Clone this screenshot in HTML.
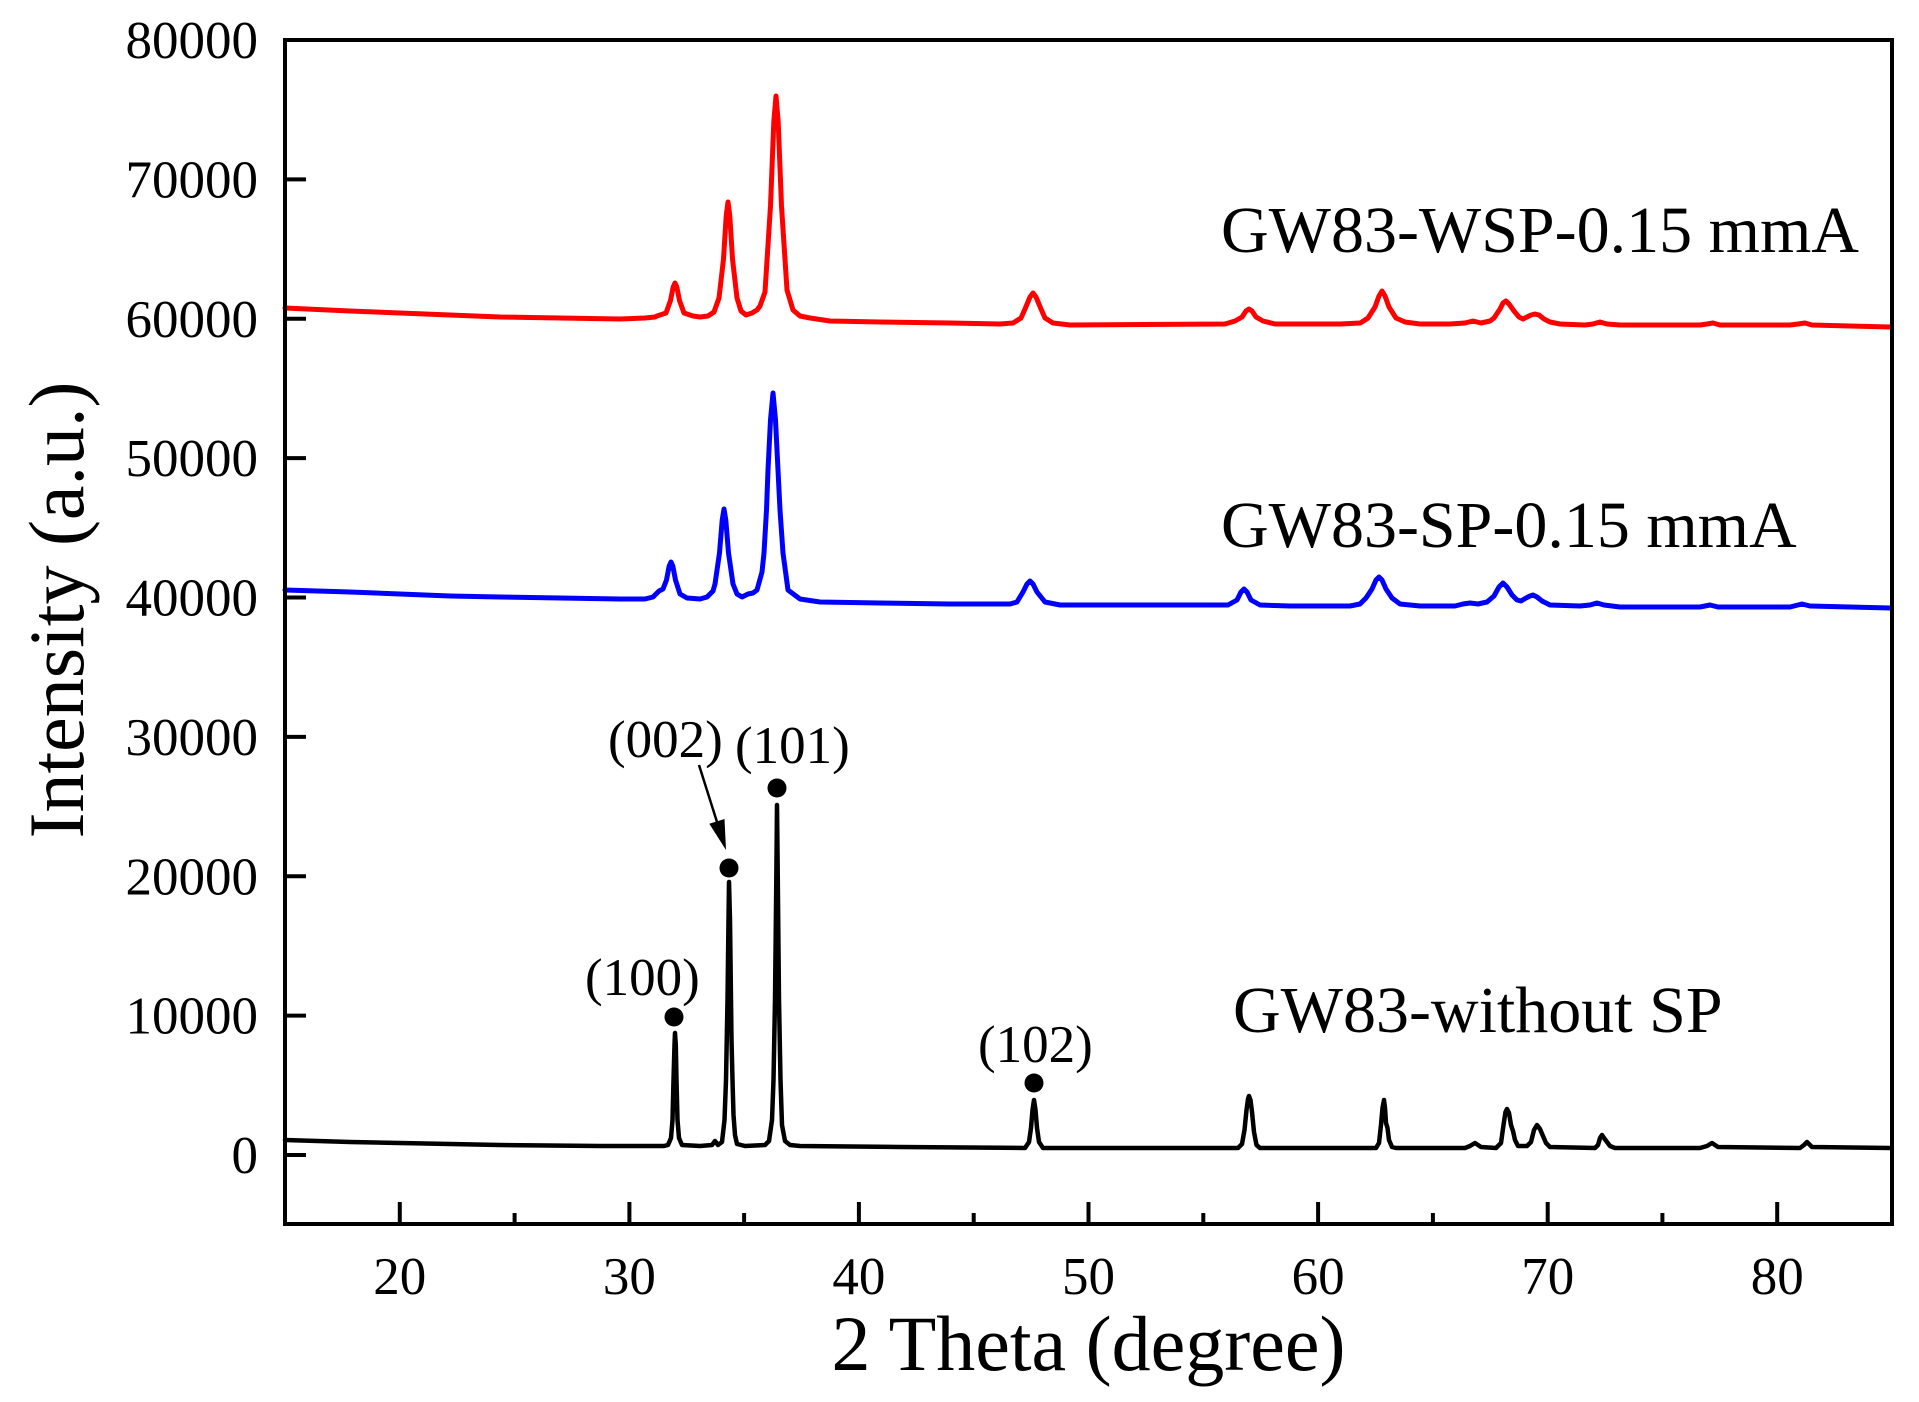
<!DOCTYPE html>
<html>
<head>
<meta charset="utf-8">
<style>
html,body{margin:0;padding:0;background:#fff;}
svg{display:block;}
text{font-family:"Liberation Serif","Times New Roman",serif;fill:#000;}
</style>
</head>
<body>
<svg width="1919" height="1402" viewBox="0 0 1919 1402" xmlns="http://www.w3.org/2000/svg">
<rect x="0" y="0" width="1919" height="1402" fill="#fff"/>

<!-- curves -->
<g fill="none" stroke-linejoin="round" stroke-linecap="round">
<!-- red -->
<polyline stroke="#ff0000" stroke-width="5" points="285,308 350,311 400,313 450,315 500,317 560,318 620,319 645,318 655,317 657,316 666,313 670.5,300.5 673.2,287 675,283 676.8,287 679.5,300.5 684,313 693,316 700,317 708,316 714,312 719,298 723.5,259 726.2,216 728,202 729.8,216 732.5,259 737,298 741,311 746,315 752,313 757,310 760,306 765,292 770.5,206 773.8,122 776,96 778.2,122 781.5,206 787,290 793,310 800,316 810,318 830,321 880,322 950,323 1000,324 1013,323 1021,318 1025,309 1030,297 1033,293 1036,297 1041,309 1045,318 1053,323 1070,325 1225,324 1235,321 1242,317 1246,311 1249,309 1252,311 1256,317 1263,321 1275,324 1300,324 1340,324 1360,323 1362,322 1368,318 1375,307 1379,296 1382,291 1385,296 1389,307 1396,318 1405,322 1420,324 1450,324 1465,323 1473,321 1481,323 1490,321 1494,318 1500,309 1503,303 1506,301 1509,304 1514,311 1519,317 1523,319 1527,317 1531,315 1535,314 1539,315 1544,319 1550,322 1560,324 1585,325 1593,324 1600,322 1607,324 1620,325 1700,325 1707,324 1713,323 1720,325 1790,325 1798,324 1805,323 1812,325 1850,326 1890,327"/>
<!-- blue -->
<polyline stroke="#0000ff" stroke-width="5" points="285,590 350,592 400,594 450,596 500,597 560,598 620,599 645,599 653,597 659,591 663,589 666.5,580 669.2,566 671,562 672.8,566 675.5,580 680,594 687,598 700,599 707,597 713,591 715,584 719.5,553 722.2,520 724,509 725.8,520 728.5,553 733,584 737,594 742,597 748,594 753,593 757,590 762,572 764,553 766.5,510 768,470 770.5,420 773,393 775.5,420 778,470 780,510 783,553 788,590 800,599 820,602 880,603 950,604 1010,604 1017,602 1023,592 1027,584 1030,581 1033,584 1037,592 1045,602 1060,605 1225,605 1228,605 1237,600 1241,592 1244,589 1247,592 1251,600 1260,605 1290,606 1350,606 1360,604 1366,598 1372,589 1376,580 1379,577 1382,580 1386,589 1392,598 1400,604 1420,606 1455,606 1463,604 1470,603 1478,604 1487,602 1494,596 1499,587 1503,583 1507,587 1512,595 1517,600 1521,601 1526,598 1530,596 1533,595 1537,597 1542,601 1550,605 1580,606 1590,605 1597,603 1604,605 1620,607 1700,607 1710,605 1718,607 1790,607 1802,604 1810,606 1850,607 1890,608"/>
<!-- black -->
<polyline stroke="#000" stroke-width="4.5" points="285,1140 350,1142 400,1143 500,1145 600,1146 664,1146 668,1145 671,1138 672.5,1120 673.5,1080 674.5,1045 675,1033 675.8,1045 676.5,1080 677.5,1120 679,1138 682,1145 700,1146 712,1145 715,1141 718,1145 722,1142 724.5,1120 726,1080 727.5,1000 728.5,920 729,882 730,920 731,1000 731.5,1040 732.5,1080 733.5,1115 735,1135 737,1144 745,1146 765,1145 769,1141 772,1120 773.5,1080 775,1000 776.3,880 777,805 777.8,880 779,1000 780.5,1080 782,1125 785,1141 790,1145 800,1146 900,1147 1025,1148 1029,1142 1031,1128 1032.5,1110 1034,1100 1035.5,1110 1037,1128 1039,1142 1043,1148 1238,1148 1242,1144 1244.5,1130 1246.5,1110 1248,1099 1249,1096 1250.5,1100 1252,1112 1254,1132 1256.5,1145 1260,1148 1376,1148 1379,1143 1381,1125 1382.5,1108 1384,1100 1385,1108 1386,1123 1387.5,1128 1389,1140 1392,1147 1396,1148 1465,1148 1470,1146 1475,1143 1481,1147 1496,1148 1501,1143 1503.5,1125 1505.5,1112 1507,1109 1509,1113 1511,1125 1513,1131 1515,1140 1518,1146 1527,1146 1531,1142 1534,1130 1537,1125 1540,1129 1543,1136 1546,1143 1550,1147 1595,1148 1598,1145 1600,1138 1602,1135 1604,1138 1607,1142 1610,1146 1615,1148 1700,1148 1707,1146 1712,1143 1718,1147 1800,1148 1804,1145 1807,1142 1812,1147 1890,1148"/>
</g>

<!-- axes box -->
<rect x="285" y="40" width="1607" height="1184" fill="none" stroke="#000" stroke-width="4"/>

<!-- y ticks -->
<g stroke="#000" stroke-width="4">
<line x1="285" y1="179.4" x2="306" y2="179.4"/>
<line x1="285" y1="318.8" x2="306" y2="318.8"/>
<line x1="285" y1="458.1" x2="306" y2="458.1"/>
<line x1="285" y1="597.5" x2="306" y2="597.5"/>
<line x1="285" y1="736.9" x2="306" y2="736.9"/>
<line x1="285" y1="876.3" x2="306" y2="876.3"/>
<line x1="285" y1="1015.6" x2="306" y2="1015.6"/>
<line x1="285" y1="1155" x2="306" y2="1155"/>
</g>
<!-- x ticks -->
<g stroke="#000" stroke-width="4">
<line x1="399.8" y1="1224" x2="399.8" y2="1202"/>
<line x1="514.6" y1="1224" x2="514.6" y2="1213"/>
<line x1="629.4" y1="1224" x2="629.4" y2="1202"/>
<line x1="744.1" y1="1224" x2="744.1" y2="1213"/>
<line x1="858.9" y1="1224" x2="858.9" y2="1202"/>
<line x1="973.7" y1="1224" x2="973.7" y2="1213"/>
<line x1="1088.5" y1="1224" x2="1088.5" y2="1202"/>
<line x1="1203.3" y1="1224" x2="1203.3" y2="1213"/>
<line x1="1318.1" y1="1224" x2="1318.1" y2="1202"/>
<line x1="1432.9" y1="1224" x2="1432.9" y2="1213"/>
<line x1="1547.7" y1="1224" x2="1547.7" y2="1202"/>
<line x1="1662.4" y1="1224" x2="1662.4" y2="1213"/>
<line x1="1777.2" y1="1224" x2="1777.2" y2="1202"/>
</g>

<!-- y tick labels -->
<g font-size="53" text-anchor="end">
<text x="258" y="58">80000</text>
<text x="258" y="197.4">70000</text>
<text x="258" y="336.8">60000</text>
<text x="258" y="476.1">50000</text>
<text x="258" y="615.5">40000</text>
<text x="258" y="754.9">30000</text>
<text x="258" y="894.3">20000</text>
<text x="258" y="1033.6">10000</text>
<text x="258" y="1173">0</text>
</g>
<!-- x tick labels -->
<g font-size="53" text-anchor="middle">
<text x="399.8" y="1294">20</text>
<text x="629.4" y="1294">30</text>
<text x="858.9" y="1294">40</text>
<text x="1088.5" y="1294">50</text>
<text x="1318.1" y="1294">60</text>
<text x="1547.7" y="1294">70</text>
<text x="1777.2" y="1294">80</text>
</g>

<!-- axis titles -->
<text x="1088.5" y="1370" font-size="78" text-anchor="middle">2 Theta (degree)</text>
<text transform="translate(83,610) rotate(-90)" font-size="78" text-anchor="middle">Intensity (a.u.)</text>

<!-- series labels -->
<g font-size="66">
<text x="1221" y="252">GW83-WSP-0.15 mmA</text>
<text x="1221" y="547">GW83-SP-0.15 mmA</text>
<text x="1233" y="1032">GW83-without SP</text>
</g>

<!-- peak markers -->
<g fill="#000">
<circle cx="674" cy="1017" r="9.5"/>
<circle cx="729" cy="868" r="9.5"/>
<circle cx="777" cy="788" r="9.5"/>
<circle cx="1034" cy="1083" r="9.5"/>
</g>
<g font-size="53">
<text x="585" y="995">(100)</text>
<text x="608" y="757">(002)</text>
<text x="735" y="763">(101)</text>
<text x="978" y="1062">(102)</text>
</g>
<!-- arrow -->
<line x1="699" y1="765" x2="717" y2="822" stroke="#000" stroke-width="2.5"/>
<polygon points="726,850 709.3,823.8 724.5,819" fill="#000"/>
</svg>
</body>
</html>
